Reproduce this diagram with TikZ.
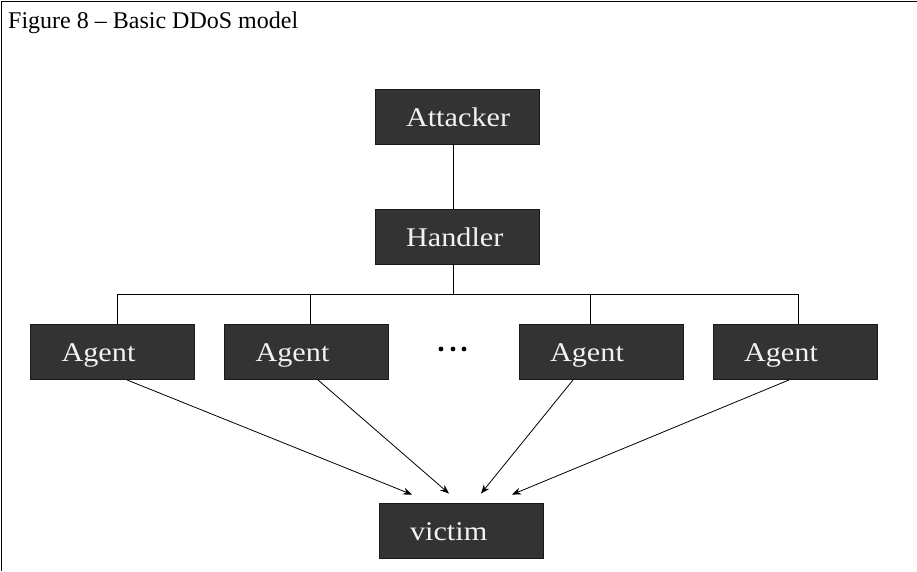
\documentclass[tikz,border=0pt]{standalone}
\usepackage{xcolor}
\usepackage{tikz}
\usepackage{fontspec}
\usetikzlibrary{arrows.meta, positioning, calc}

\setmainfont{Liberation Serif}
\newfontfamily\boxfont[FakeStretch=1.12]{Liberation Serif}

\definecolor{boxfill}{HTML}{333333}
\definecolor{boxtext}{HTML}{F2F2F2}

\tikzset{
	ddosbox/.style={draw=black!90, fill=boxfill, line width=0.9pt, text=boxtext,
		minimum width=164pt, minimum height=55pt, inner xsep=31pt,
		text width=102pt, align=left, text height=19pt, text depth=0pt,
		font=\boxfont\fontsize{27}{31}\selectfont},
	link/.style={line width=0.9pt},
	hit/.style={line width=0.8pt, -{Stealth[length=9pt, width=7pt]}}
}

\begin{document}
\begin{tikzpicture}[x=1pt, y=-1pt]
				\useasboundingbox (0,0) rectangle (917,571);
				
				% Frame and title
				\draw[line width=1.3pt] (917,1.5) -- (1.2,1.5) -- (1.2,571);
				\node[anchor=base west, inner sep=0pt, font=\fontsize{24}{28}\selectfont] (title) at (8,28) {Figure 8 -- Basic DDoS model};
				
				% Boxes
				\node[ddosbox] (attacker) at (457,116.5) {Attacker};
				\node[ddosbox] (handler) at (457,236.5) {Handler};
				\node[ddosbox] (agent1) at (112.5,352) {Agent};
				\node[ddosbox] (agent2) at (306.5,352) {Agent};
				\node[ddosbox] (agent3) at (601,352) {Agent};
				\node[ddosbox] (agent4) at (795,352) {Agent};
				\node[ddosbox] (victim) at (461,530.5) {victim};
				
				% Dots between the agents
				\foreach \x in {441,453,464} {
					\fill (\x,349) circle (2.4pt);
				}
				
				% Tree lines
				\coordinate (bus) at (453,294);
				\draw[link] ([xshift=-4pt]attacker.south) -- ([xshift=-4pt]handler.north);
				\draw[link] ([xshift=-4pt]handler.south) -- (bus);
				\draw[link] ([xshift=4.5pt]agent1.north) |- ([xshift=3pt]agent4.north |- bus) -- ([xshift=3pt]agent4.north);
				\draw[link] ([xshift=3.5pt]agent2.north) -- ([xshift=3.5pt]agent2.north |- bus);
				\draw[link] ([xshift=-11pt]agent3.north) -- ([xshift=-11pt]agent3.north |- bus);
				
				% Attack arrows
				\draw[hit] ([xshift=14.5pt]agent1.south) -- ([xshift=-49pt, yshift=8pt]victim.north);
				\draw[hit] ([xshift=11.5pt]agent2.south) -- ([xshift=-12pt, yshift=9pt]victim.north);
				\draw[hit] ([xshift=-28pt]agent3.south) -- ([xshift=20pt, yshift=9pt]victim.north);
				\draw[hit] ([xshift=-6pt]agent4.south) -- ([xshift=51pt, yshift=8pt]victim.north);
			\end{tikzpicture}
\end{document}
